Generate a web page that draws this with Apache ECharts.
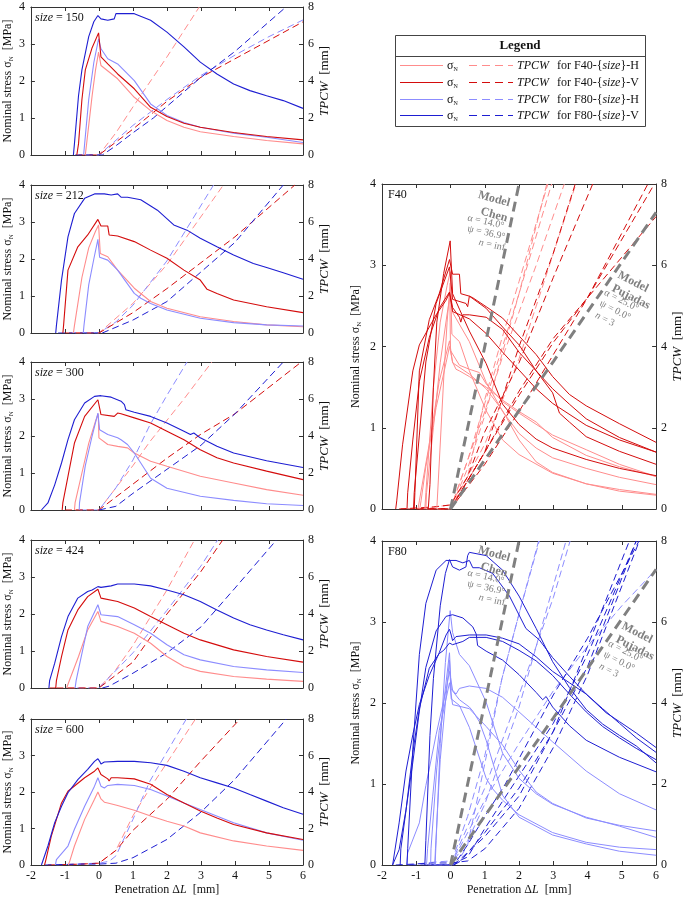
<!DOCTYPE html>
<html><head><meta charset="utf-8">
<script src="https://cdn.jsdelivr.net/npm/echarts@6/dist/echarts.min.js"></script>
<style>html,body{margin:0;padding:0;background:#fff}#c{width:685px;height:897px}</style>
</head><body><div id="c"></div>
<script>
// ---------- DATA ----------
const sizes = ['150', '212', '300', '424', '600'];
const xTicks = [-2, -1, 0, 1, 2, 3, 4, 5, 6];
const stressTicks = [0, 1, 2, 3, 4];
const tpcwTicks = [0, 2, 4, 6, 8];

// size 150 – nominal stress [MPa] vs penetration [mm]
const s150_F40H = [[-0.4,0],[-0.3,0.8],[-0.2,1.6],[-0.1,2.3],[-0.01,2.78],[0.06,2.42],[0.55,2.06],[1.04,1.56],[1.52,1.2],[2.0,0.93],[2.5,0.75],[2.98,0.63],[3.96,0.5],[4.93,0.39],[6,0.3]];
const s150_F40V = [[-0.65,0],[-0.6,0.3],[-0.5,1.5],[-0.4,2.3],[-0.2,2.9],[-0.01,3.3],[0.06,2.65],[0.26,2.46],[0.55,2.19],[1.04,1.79],[1.52,1.29],[2.0,1.04],[2.5,0.86],[2.98,0.75],[3.96,0.61],[4.93,0.5],[6,0.41]];
const s150_F80H = [[-0.45,0],[-0.42,0.3],[-0.3,1.5],[-0.15,2.5],[-0.01,3.14],[0.06,2.87],[0.26,2.6],[0.55,2.46],[1.04,2.01],[1.52,1.38],[2.0,1.07],[2.5,0.88],[2.98,0.75],[3.96,0.59],[4.93,0.48],[6,0.34]];
const s150_F80V = [[-0.75,0],[-0.72,0.3],[-0.6,1.6],[-0.5,2.3],[-0.3,3.2],[-0.15,3.6],[-0.03,3.77],[0.06,3.68],[0.26,3.64],[0.45,3.68],[0.5,3.82],[0.55,3.86],[1.04,3.82],[1.52,3.64],[2.0,3.32],[2.5,2.92],[2.98,2.51],[3.47,2.19],[3.96,1.92],[4.44,1.74],[4.93,1.6],[5.42,1.47],[6,1.26]];
// size 150 – TPCW [mm]
const t150_F40H = [[-0.4,0],[0,0],[0.5,1.2],[1,2.6],[2,5.3],[2.95,8]];
const t150_F40V = [[-0.6,0],[0,0],[1,1.4],[2,2.9],[3,4.2],[4,5.2],[5,6.2],[6,7.2]];
const t150_F80H = [[-0.4,0],[0,0],[1,1.6],[2,3.0],[3,4.3],[4,5.4],[5,6.4],[6,7.3]];
const t150_F80V = [[-0.7,0],[0.1,0],[0.5,0.5],[1,1.2],[1.6,2.0],[3,4.2],[4,5.6],[5.5,8]];

// size 212
const s212_F40H = [[-0.75,0],[-0.72,0.2],[-0.5,1.5],[-0.3,2.3],[-0.1,2.75],[-0.01,2.92],[0.04,2.15],[0.26,2.06],[0.55,1.7],[1.04,1.21],[1.52,0.85],[2.0,0.67],[2.98,0.44],[3.96,0.31],[4.93,0.22],[6,0.17]];
const s212_F40V = [[-1.06,0],[-1.04,0.2],[-0.91,1.7],[-0.62,2.33],[-0.33,2.65],[-0.03,3.07],[0.06,2.89],[0.26,2.89],[0.3,2.65],[0.55,2.62],[1.04,2.47],[1.52,2.24],[2.0,2.02],[2.5,1.7],[2.98,1.43],[3.18,1.18],[3.47,1.07],[3.96,0.89],[4.93,0.71],[6,0.55]];
const s212_F80H = [[-0.46,0],[-0.44,0.2],[-0.3,1.3],[-0.15,2.0],[-0.03,2.53],[0.02,2.05],[0.26,1.97],[0.55,1.7],[1.04,1.07],[1.23,0.94],[1.52,0.8],[2.0,0.62],[2.98,0.4],[3.96,0.28],[4.93,0.22],[6,0.19]];
const s212_F80V = [[-1.27,0],[-1.25,0.2],[-1.1,1.43],[-0.91,2.6],[-0.72,3.23],[-0.42,3.64],[-0.13,3.76],[0.16,3.76],[0.36,3.73],[0.55,3.76],[0.65,3.67],[0.84,3.67],[1.23,3.6],[1.72,3.32],[2.2,2.92],[2.59,2.78],[2.98,2.56],[3.47,2.33],[3.96,2.11],[4.54,1.88],[4.93,1.77],[5.42,1.63],[6,1.45]];
const t212_F40H = [[-0.7,0],[0,0],[1,1.6],[2,3.7],[3.66,8]];
const t212_F40V = [[-1.0,0],[0,0],[1,1.1],[2,2.4],[3,3.8],[4,5.2],[5.76,8]];
const t212_F80H = [[-0.45,0],[0,0],[0.5,0.6],[1,1.5],[2,3.9],[3.37,8]];
const t212_F80V = [[-1.2,0],[0.1,0],[1,0.7],[2,1.7],[3,3.3],[4,4.9],[5.42,8]];

// size 300
const s300_F40H = [[-0.72,0],[-0.7,0.2],[-0.5,1.0],[-0.3,1.8],[-0.1,2.4],[-0.02,2.6],[0.0,1.95],[0.26,1.77],[0.55,1.72],[0.84,1.68],[1.04,1.54],[1.52,1.32],[2.0,1.18],[2.98,0.91],[3.96,0.73],[4.93,0.55],[6,0.4]];
const s300_F40V = [[-1.08,0],[-1.06,0.2],[-0.91,0.91],[-0.72,1.81],[-0.42,2.53],[-0.03,2.98],[0.06,2.58],[0.45,2.53],[0.5,2.49],[0.55,2.62],[0.65,2.6],[1.04,2.49],[1.52,2.35],[2.0,2.13],[2.5,1.9],[2.98,1.63],[3.47,1.41],[3.96,1.27],[4.93,1.05],[6,0.82]];
const s300_F80H = [[-0.58,0],[-0.57,0.2],[-0.4,1.2],[-0.2,2.0],[-0.03,2.62],[0.02,2.17],[0.26,2.04],[0.55,1.95],[0.65,1.9],[0.84,1.77],[1.04,1.54],[1.23,1.27],[1.52,0.86],[2.0,0.59],[2.98,0.37],[3.96,0.26],[4.93,0.17],[6,0.12]];
const s300_F80V = [[-1.69,0],[-1.5,0.19],[-1.3,0.68],[-1.1,1.27],[-0.91,1.9],[-0.72,2.44],[-0.42,2.89],[-0.13,3.07],[0.06,3.09],[0.36,3.05],[0.65,2.94],[0.75,2.85],[0.79,2.71],[1.04,2.64],[1.52,2.53],[2.0,2.35],[2.5,2.13],[2.69,2.04],[2.79,2.08],[2.98,1.95],[3.47,1.72],[3.96,1.54],[4.93,1.33],[6,1.15]];
const t300_F40H = [[-0.7,0],[0,0],[0.5,1.2],[1,2.4],[1.5,3.7],[2.5,6.0],[3.32,8]];
const t300_F40V = [[-1.0,0],[0,0],[1,1.4],[2,2.8],[3,4.1],[4,5.2],[5.95,8]];
const t300_F80H = [[-0.55,0],[0,0],[0.5,1.2],[1,2.7],[1.5,4.6],[2,6.2],[2.59,8]];
const t300_F80V = [[0,0],[0.5,0.2],[1,0.9],[2,2.2],[3,3.5],[4,5.2],[5.42,8]];

// size 424
const s424_F40H = [[-0.95,0],[-0.91,0.1],[-0.6,0.85],[-0.33,1.57],[-0.03,2.07],[0.06,1.8],[0.55,1.66],[1.04,1.48],[1.52,1.21],[2.0,0.85],[2.5,0.58],[2.98,0.45],[3.96,0.31],[4.93,0.24],[6,0.18]];
const s424_F40V = [[-1.45,0],[-1.27,0],[-1.25,0.2],[-1.1,0.85],[-0.91,1.57],[-0.62,2.11],[-0.33,2.47],[-0.03,2.67],[0.02,2.65],[0.06,2.43],[0.55,2.34],[1.04,2.16],[1.52,1.93],[2.0,1.71],[2.5,1.48],[2.98,1.3],[3.96,1.03],[4.93,0.85],[6,0.7]];
const s424_F80H = [[-0.7,0],[-0.67,0.2],[-0.52,0.85],[-0.33,1.66],[-0.03,2.25],[0.06,1.98],[0.55,1.93],[1.04,1.71],[1.52,1.48],[2.0,1.17],[2.5,0.9],[2.98,0.76],[3.96,0.58],[4.93,0.49],[6,0.42]];
const s424_F80V = [[-1.47,0],[-1.45,0.2],[-1.3,0.67],[-1.1,1.39],[-0.91,1.93],[-0.62,2.43],[-0.33,2.61],[-0.2,2.65],[-0.03,2.74],[0.06,2.72],[0.36,2.76],[0.55,2.81],[1.04,2.81],[1.52,2.76],[2.0,2.65],[2.5,2.52],[2.98,2.34],[3.47,2.11],[3.96,1.89],[4.44,1.71],[4.93,1.57],[5.42,1.44],[6,1.3]];
const t424_F40H = [[-0.9,0],[0,0],[0.5,1.0],[1,2.3],[2,5.3],[2.81,8]];
const t424_F40V = [[-1.25,0],[0,0],[1,1.4],[2,4.0],[3,6.3],[3.64,8]];
const t424_F80H = [[-0.65,0],[0,0],[1,1.9],[2,4.2],[3,6.6],[3.49,8]];
const t424_F80V = [[0.1,0],[0.3,0.1],[1,0.8],[2,1.9],[3,3.3],[4,5.4],[5.22,8]];

// size 600
const s600_F40H = [[-0.9,0],[-0.86,0.1],[-0.72,0.52],[-0.42,1.25],[-0.13,1.8],[-0.03,2.0],[0.06,1.81],[0.16,1.72],[0.26,1.7],[0.55,1.63],[1.04,1.5],[1.52,1.34],[2.0,1.2],[2.5,1.07],[2.98,0.88],[3.96,0.66],[4.93,0.52],[6,0.4]];
const s600_F40V = [[-1.6,0],[-1.57,0.1],[-1.4,0.79],[-1.1,1.7],[-0.91,2.02],[-0.42,2.39],[-0.13,2.57],[-0.03,2.66],[0.06,2.48],[0.26,2.36],[0.3,2.3],[0.36,2.39],[0.55,2.39],[1.04,2.36],[1.52,2.21],[2.0,1.93],[2.5,1.7],[2.98,1.48],[3.47,1.29],[3.96,1.11],[4.93,0.88],[6,0.7]];
const s600_F80H = [[-1.28,0],[-1.25,0.15],[-0.91,0.52],[-0.72,0.98],[-0.42,1.61],[-0.13,2.16],[-0.03,2.39],[0.06,2.16],[0.16,2.11],[0.26,2.18],[0.55,2.21],[1.04,2.18],[1.52,2.07],[2.0,1.89],[2.5,1.7],[2.98,1.52],[3.96,1.16],[4.93,0.88],[6,0.68]];
const s600_F80V = [[-1.69,0],[-1.5,0.52],[-1.3,1.16],[-1.1,1.61],[-0.91,1.98],[-0.62,2.34],[-0.33,2.62],[-0.13,2.84],[-0.03,2.91],[0.02,2.84],[0.06,2.77],[0.16,2.82],[0.55,2.84],[1.04,2.84],[1.52,2.8],[2.0,2.73],[2.5,2.57],[2.98,2.39],[3.47,2.25],[3.96,2.11],[4.44,1.93],[4.93,1.75],[5.42,1.57],[6,1.39]];
const t600_F40H = [[-0.9,0],[-0.5,0.05],[0,0.1],[0.5,0.8],[1,2.7],[1.5,4.2],[2,5.6],[2.84,8]];
const t600_F40V = [[-1.5,0],[-0.5,0.05],[0,0.1],[0.5,0.8],[1,1.9],[2,3.6],[3,5.7],[4.15,8]];
const t600_F80H = [[-1.25,0],[-0.5,0.07],[0,0.1],[0.3,0.2],[0.5,0.5],[1,2.5],[1.5,4.6],[2,6.2],[2.57,8]];
const t600_F80V = [[-1.6,0],[-0.5,0.05],[0,0.05],[0.5,0.1],[1,0.4],[2,1.4],[3,2.9],[4,4.7],[5.51,8]];

// model predictions of TPCW [mm]
const modelChen = [[0,0],[2,8]];
const modelPujadas = [[0,0],[3,3.63],[6,7.3]];

// ---------- ASSEMBLY ----------
const stressData = {
  '150': {F40H:s150_F40H, F40V:s150_F40V, F80H:s150_F80H, F80V:s150_F80V},
  '212': {F40H:s212_F40H, F40V:s212_F40V, F80H:s212_F80H, F80V:s212_F80V},
  '300': {F40H:s300_F40H, F40V:s300_F40V, F80H:s300_F80H, F80V:s300_F80V},
  '424': {F40H:s424_F40H, F40V:s424_F40V, F80H:s424_F80H, F80V:s424_F80V},
  '600': {F40H:s600_F40H, F40V:s600_F40V, F80H:s600_F80H, F80V:s600_F80V}
};
const tpcwData = {
  '150': {F40H:t150_F40H, F40V:t150_F40V, F80H:t150_F80H, F80V:t150_F80V},
  '212': {F40H:t212_F40H, F40V:t212_F40V, F80H:t212_F80H, F80V:t212_F80V},
  '300': {F40H:t300_F40H, F40V:t300_F40V, F80H:t300_F80H, F80V:t300_F80V},
  '424': {F40H:t424_F40H, F40V:t424_F40V, F80H:t424_F80H, F80V:t424_F80V},
  '600': {F40H:t600_F40H, F40V:t600_F40V, F80H:t600_F80H, F80V:t600_F80V}
};

const FONT = '"Liberation Serif", "Times New Roman", serif';
const COL = {F40H:'#ff8c8c', F40V:'#d40c0c', F80H:'#8c8cff', F80V:'#1e1ed2'};
const AX = '#333';
const TXT = '#111';
const MODEL = '#808080';

const grid = [], xAxis = [], yAxis = [], series = [];

function addPanel(l, t, w, h, opt) {
  const gi = grid.length;
  grid.push({left:l, top:t, width:w, height:h});
  const commonX = {gridIndex:gi, type:'value', min:-2, max:6, interval:1,
    axisLine:{onZero:false, lineStyle:{color:AX, width:1}},
    axisTick:{inside:true, length:4, lineStyle:{color:AX}},
    splitLine:{show:false}};
  xAxis.push(Object.assign({}, commonX, {position:'bottom',
    axisLabel:{show:opt.showX, color:TXT, fontFamily:FONT, fontSize:12, margin:5},
    name: opt.showX ? 'Penetration Δ{i|L}  [mm]' : '', nameLocation:'middle', nameGap:19,
    nameTextStyle:{color:TXT, fontFamily:FONT, fontSize:12, rich:{i:{fontStyle:'italic', fontFamily:FONT, fontSize:12, color:TXT}}}}));
  xAxis.push(Object.assign({}, commonX, {position:'top', axisLabel:{show:false}}));
  yAxis.push({gridIndex:gi, type:'value', min:0, max:4, interval:1, position:'left',
    axisLine:{show:true, onZero:false, lineStyle:{color:AX}},
    axisTick:{show:true, inside:true, length:4, lineStyle:{color:AX}},
    axisLabel:{color:TXT, fontFamily:FONT, fontSize:12, margin:6},
    splitLine:{show:false},
    name:'Nominal stress σ{sub|N}  [MPa]', nameLocation:'middle', nameGap:opt.lGap,
    nameTextStyle:{color:TXT, fontFamily:FONT, fontSize:12, lineHeight:14,
      rich:{sub:{fontSize:7, fontFamily:FONT, color:TXT, verticalAlign:'bottom', lineHeight:14}}}});
  yAxis.push({gridIndex:gi, type:'value', min:0, max:8, interval:2, position:'right',
    axisLine:{show:true, onZero:false, lineStyle:{color:AX}},
    axisTick:{show:true, inside:true, length:4, lineStyle:{color:AX}},
    axisLabel:{color:TXT, fontFamily:FONT, fontSize:12, margin:5},
    splitLine:{show:false},
    name:'{i|TPCW}  [mm]', nameLocation:'middle', nameGap:opt.rGap,
    nameTextStyle:{color:TXT, fontFamily:FONT, fontSize:13,
      rich:{i:{fontStyle:'italic', fontFamily:FONT, fontSize:13, color:TXT}}}});
  return {xi:xAxis.length-2, yl:yAxis.length-2, yr:yAxis.length-1};
}

function line(ax, data, color, dashed, yr, width) {
  series.push({type:'line', xAxisIndex:ax.xi, yAxisIndex: yr ? ax.yr : ax.yl,
    data:data, showSymbol:false, symbol:'none', smooth:false, clip:true, silent:true,
    lineStyle:{color:color, width:width || 1, type: dashed ? [7,4] : 'solid'}, z:2});
}

const smallTops = [7, 185, 362, 540, 719];
const keysOrder = ['F40H', 'F80H', 'F40V', 'F80V'];
sizes.forEach((sz, i) => {
  const ax = addPanel(29, smallTops[i], 274, 148, {showX: i === 4, lGap:15, rGap:13});
  keysOrder.forEach(k => line(ax, tpcwData[sz][k], COL[k], true, true, 1));
  keysOrder.forEach(k => line(ax, stressData[sz][k], COL[k], false, false, 1.1));
});

const F40 = addPanel(382, 184, 275, 325, {showX:false, lGap:19, rGap:14});
const F80 = addPanel(382, 541, 275, 326, {showX:true, lGap:19, rGap:14});
[[F40, ['F40H','F40V']], [F80, ['F80H','F80V']]].forEach(([ax, ks]) => {
  ks.forEach(k => sizes.forEach(sz => line(ax, tpcwData[sz][k], COL[k], true, true, 1)));
  ks.forEach(k => sizes.forEach(sz => line(ax, stressData[sz][k], COL[k], false, false, 1)));
  series.push({type:'line', xAxisIndex:ax.xi, yAxisIndex:ax.yr, data:modelChen, showSymbol:false, silent:true,
    lineStyle:{color:MODEL, width:3, type:[10,6]}, z:3});
  series.push({type:'line', xAxisIndex:ax.xi, yAxisIndex:ax.yr, data:modelPujadas, showSymbol:false, silent:true,
    lineStyle:{color:MODEL, width:3, type:[10,6]}, z:3});
});

// ---------- GRAPHIC TEXT / LEGEND ----------
const graphic = [];
sizes.forEach((sz, i) => {
  graphic.push({type:'text', left:35, top:smallTops[i] + 5, z:10,
    style:{text:'{i|size} = ' + sz, font:'12px ' + FONT, fill:TXT,
      rich:{i:{fontStyle:'italic', fontFamily:FONT, fontSize:12, fill:TXT}}}});
});
graphic.push({type:'text', left:388, top:189, z:10, style:{text:'F40', font:'12px ' + FONT, fill:TXT}});
graphic.push({type:'text', left:388, top:546, z:10, style:{text:'F80', font:'12px ' + FONT, fill:TXT}});

function gText(x, y, text, font, align, rot) {
  graphic.push({type:'text', x:x, y:y, rotation:rot, z:20,
    style:{text:text, font:font, fill:MODEL, align:align, verticalAlign:'middle',
      rich:{i:{fontStyle:'italic', fontFamily:FONT, fontSize:10, fill:MODEL}}}});
}
const BOLD = 'bold 12px ' + FONT, SMALL = '10px ' + FONT;
// Chen labels (F40, F80)
[[0, 0], [1, 355]].forEach(([k, dy]) => {
  const r = -0.27;
  gText(494, 199 + dy, 'Model', BOLD, 'center', r);
  gText(494, 215 + dy, 'Chen', BOLD, 'center', r);
  gText(504, 226 + dy, 'α = 14.0°', SMALL, 'right', -0.22);
  gText(505, 237 + dy, 'ψ = 36.9°', SMALL, 'right', -0.22);
  gText(505, 248 + dy, '{i|n} = inf', SMALL, 'right', -0.22);
});
// Pujadas labels
[[0, 0, 0], [1, 351, 4]].forEach(([k, dy, dx]) => {
  const r = -0.47;
  gText(633 + dx, 282 + dy, 'Model', BOLD, 'center', r);
  gText(631 + dx, 297 + dy, 'Pujadas', BOLD, 'center', r);
  gText(638 + dx, 309 + dy, 'α = 25.0°', SMALL, 'right', r);
  gText(630 + dx, 318 + dy, 'ψ = 0.0°', SMALL, 'right', r);
  gText(614 + dx, 324 + dy, '{i|n} = 3', SMALL, 'right', r);
});

// legend box
graphic.push({type:'rect', shape:{x:395.5, y:35.5, width:250, height:91}, style:{fill:'#fff', stroke:'#444', lineWidth:1}, z:5});
graphic.push({type:'line', shape:{x1:395.5, y1:56.5, x2:645.5, y2:56.5}, style:{stroke:'#444', lineWidth:1}, z:6});
graphic.push({type:'text', x:520, y:45.5, z:6, style:{text:'Legend', font:'bold 13px ' + FONT, fill:TXT, align:'center', verticalAlign:'middle'}});
const legendKeys = ['F40H', 'F40V', 'F80H', 'F80V'];
const legendLabels = ['for F40-{{i|size}}-H', 'for F40-{{i|size}}-V', 'for F80-{{i|size}}-H', 'for F80-{{i|size}}-V'];
const rowY = [65.5, 82.5, 99.5, 115.5];
legendKeys.forEach((k, j) => {
  const y = rowY[j];
  graphic.push({type:'line', shape:{x1:400, y1:y, x2:443, y2:y}, style:{stroke:COL[k], lineWidth:1.2}, z:6});
  graphic.push({type:'text', x:447, y:y, z:6, style:{text:'σ{sub|N}', font:'12px ' + FONT, fill:TXT, verticalAlign:'middle',
    rich:{sub:{fontSize:6, fontFamily:FONT, fill:TXT, verticalAlign:'bottom', lineHeight:13}}}});
  graphic.push({type:'line', shape:{x1:469, y1:y, x2:513, y2:y}, style:{stroke:COL[k], lineWidth:1.2, lineDash:[8,5]}, z:6});
  graphic.push({type:'text', x:517, y:y, z:6, style:{text:'TPCW', font:'italic 12px ' + FONT, fill:TXT, verticalAlign:'middle'}});
  graphic.push({type:'text', x:557, y:y, z:6, style:{text:legendLabels[j], font:'12px ' + FONT, fill:TXT, verticalAlign:'middle',
    rich:{i:{fontStyle:'italic', fontFamily:FONT, fontSize:12, fill:TXT}}}});
});

const chart = echarts.init(document.getElementById('c'), null, {renderer:'canvas'});
chart.setOption({animation:false, backgroundColor:'#fff', grid, xAxis, yAxis, series, graphic});
</script></body></html>
